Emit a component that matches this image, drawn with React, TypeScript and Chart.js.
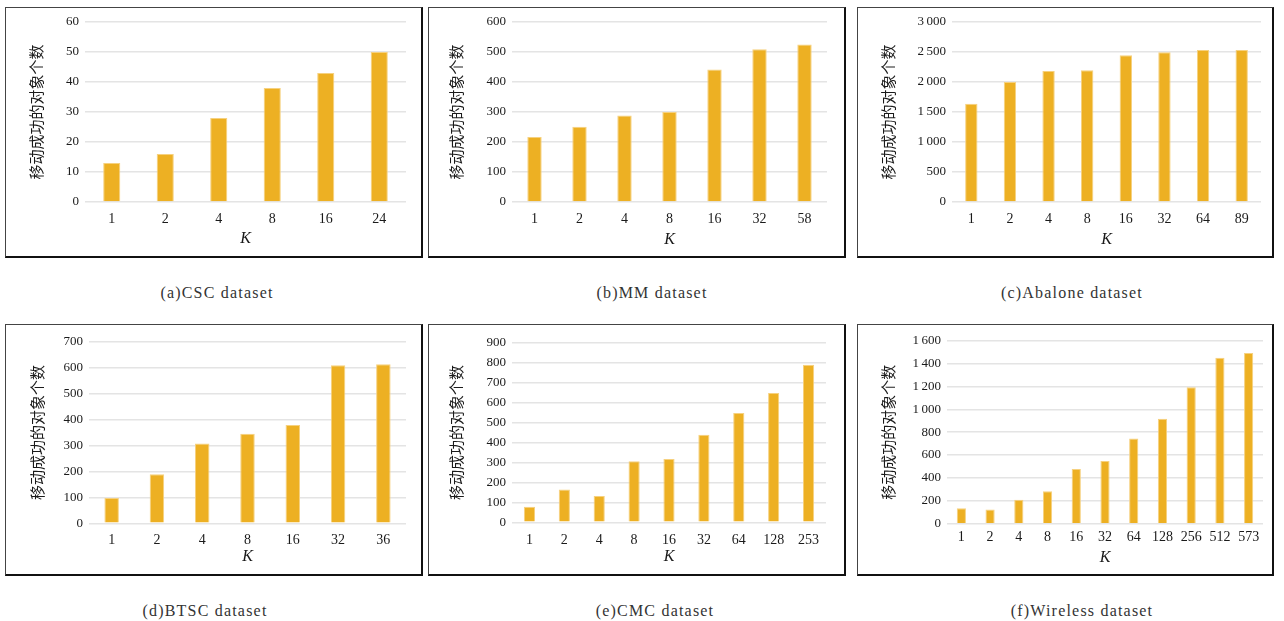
import React, { useEffect, useRef } from "react";
import { Chart, registerables } from "chart.js";
Chart.register(...registerables);

// ---- data ----
const kCSC = ["1", "2", "4", "8", "16", "24"];
const valCSC = [13, 16, 28, 38, 43, 50];
const kMM = ["1", "2", "4", "8", "16", "32", "58"];
const valMM = [217, 251, 288, 300, 442, 509, 525];
const kAbalone = ["1", "2", "4", "8", "16", "32", "64", "89"];
const valAbalone = [1636, 2002, 2185, 2196, 2445, 2495, 2534, 2534];
const kBTSC = ["1", "2", "4", "8", "16", "32", "36"];
const valBTSC = [98, 189, 308, 345, 379, 609, 613];
const kCMC = ["1", "2", "4", "8", "16", "32", "64", "128", "253"];
const valCMC = [78, 164, 132, 306, 317, 439, 548, 648, 790];
const kWireless = ["1", "2", "4", "8", "16", "32", "64", "128", "256", "512", "573"];
const valWireless = [134, 125, 210, 283, 478, 548, 746, 918, 1192, 1451, 1492];

const yMaxes = [60, 600, 3000, 700, 900, 1600];
const ySteps = [10, 100, 500, 100, 100, 200];
const captions = [
  "(a)CSC dataset",
  "(b)MM dataset",
  "(c)Abalone dataset",
  "(d)BTSC dataset",
  "(e)CMC dataset",
  "(f)Wireless dataset",
];
const yTitle = "移动成功的对象个数";
const xTitle = "K";

// ---- layout ----
type Rect = { x: number; y: number; w: number; h: number };
type PanelGeo = {
  box: Rect;
  plot: Rect;
  yTitleX: number;
  kY: number;
  tickY: number;
  capX: number;
  capY: number;
};

function R(x0: number, y0: number, x1: number, y1: number): Rect {
  return { x: x0, y: y0, w: x1 - x0, h: y1 - y0 };
}

const geos: PanelGeo[] = [
  { box: R(5, 7, 423, 258), plot: R(85, 22, 406, 202), yTitleX: 36.7, kY: 239, tickY: 219, capX: 217, capY: 293 },
  { box: R(428, 7, 846, 258), plot: R(512, 22, 827, 202), yTitleX: 456.7, kY: 240, tickY: 219, capX: 652, capY: 293 },
  { box: R(857, 7, 1274, 258), plot: R(952, 22, 1261, 202), yTitleX: 888, kY: 240, tickY: 219, capX: 1072, capY: 293 },
  { box: R(5, 324, 423, 576), plot: R(89, 341.7, 406, 523.3), yTitleX: 37.3, kY: 557, tickY: 540, capX: 205, capY: 611 },
  { box: R(428, 324, 846, 576), plot: R(512, 342.7, 826, 522.3), yTitleX: 456.7, kY: 557, tickY: 540.7, capX: 655, capY: 611 },
  { box: R(857, 324, 1274, 576), plot: R(947, 340.7, 1263, 523.7), yTitleX: 888.3, kY: 558, tickY: 537.7, capX: 1082, capY: 611 },
];

const panelData = [
  { labels: kCSC, values: valCSC },
  { labels: kMM, values: valMM },
  { labels: kAbalone, values: valAbalone },
  { labels: kBTSC, values: valBTSC },
  { labels: kCMC, values: valCMC },
  { labels: kWireless, values: valWireless },
];

const SERIF = "'Liberation Serif', 'Times New Roman', serif";
const CJK = "'Noto Sans CJK SC', sans-serif";

function fmt(v: number | string) {
  const n = Number(v);
  if (n >= 1000) {
    const s = String(n);
    return s.slice(0, s.length - 3) + "\u2009" + s.slice(s.length - 3);
  }
  return String(n);
}

function Panel({ idx }: { idx: number }) {
  const ref = useRef<HTMLCanvasElement | null>(null);
  const g = geos[idx];
  const d = panelData[idx];
  useEffect(() => {
    if (!ref.current) return;
    const { box, plot } = g;
    const L = plot.x - box.x;
    const T = plot.y - box.y;
    const Rr = box.x + box.w - (plot.x + plot.w);
    const B = box.y + box.h - (plot.y + plot.h);
    const tickFont = 14;
    const tickPad = g.tickY - (plot.y + plot.h) - (tickFont * 1.2) / 2;
    const kFont = 16;
    const kPad = box.y + box.h - g.kY - (kFont * 1.2) / 2;
    const yFont = 15;
    const yPad = g.yTitleX - box.x - (yFont * 1.2) / 2;
    const chart = new Chart(ref.current, {
      type: "bar",
      data: {
        labels: d.labels,
        datasets: [
          {
            data: d.values,
            backgroundColor: "#EDB023",
            borderColor: "#F6D17F",
            borderWidth: 1,
            barPercentage: 0.32,
            categoryPercentage: 1,
          },
        ],
      },
      options: {
        responsive: false,
        maintainAspectRatio: false,
        animation: false,
        layout: { padding: { left: 0, top: T, right: Rr, bottom: 0 } },
        plugins: { legend: { display: false }, tooltip: { enabled: false } },
        scales: {
          x: {
            grid: { display: false, drawTicks: false, tickLength: 0 },
            border: { display: false },
            ticks: {
              font: { family: SERIF, size: tickFont },
              color: "#1a1a1a",
              padding: tickPad,
              maxRotation: 0,
              autoSkip: false,
            },
            title: {
              display: true,
              text: xTitle,
              font: { family: SERIF, size: kFont, style: "italic" },
              color: "#1a1a1a",
              padding: { top: 0, bottom: kPad },
            },
            afterFit: (s: any) => {
              s.height = B;
            },
          },
          y: {
            min: 0,
            max: yMaxes[idx],
            ticks: {
              stepSize: ySteps[idx],
              padding: 6,
              font: { family: SERIF, size: 13 },
              color: "#1a1a1a",
              callback: (v: any) => fmt(v),
            },
            grid: { color: "#E4E4E4", lineWidth: 1.5, drawTicks: false },
            border: { display: false },
            title: {
              display: true,
              text: yTitle,
              font: { family: CJK, size: yFont },
              color: "#1a1a1a",
              padding: { top: yPad, bottom: 0 },
            },
            afterFit: (s: any) => {
              s.width = L;
            },
          },
        },
      },
    });
    return () => chart.destroy();
  }, [idx]);
  const { box } = g;
  return (
    <>
      <canvas
        ref={ref}
        width={box.w}
        height={box.h}
        style={{ position: "absolute", left: box.x, top: box.y, width: box.w, height: box.h }}
      />
      <div
        style={{
          position: "absolute",
          left: box.x,
          top: box.y,
          width: box.w,
          height: box.h,
          boxSizing: "border-box",
          borderTop: "1px solid #444",
          borderLeft: "1px solid #444",
          borderRight: "2px solid #111",
          borderBottom: "2px solid #111",
          pointerEvents: "none",
        }}
      />
      <div
        style={{
          position: "absolute",
          left: g.capX - 150,
          width: 300,
          top: g.capY - 10,
          height: 20,
          lineHeight: "20px",
          textAlign: "center",
          fontFamily: SERIF,
          fontSize: 16,
          letterSpacing: "1.2px",
          color: "#333",
          whiteSpace: "nowrap",
        }}
      >
        {captions[idx]}
      </div>
    </>
  );
}

export default function App() {
  return (
    <div
      style={{
        position: "absolute",
        left: 0,
        top: 0,
        width: 1284,
        height: 621,
        background: "#fff",
        overflow: "hidden",
      }}
    >
      {geos.map((_, i) => (
        <Panel key={i} idx={i} />
      ))}
    </div>
  );
}
